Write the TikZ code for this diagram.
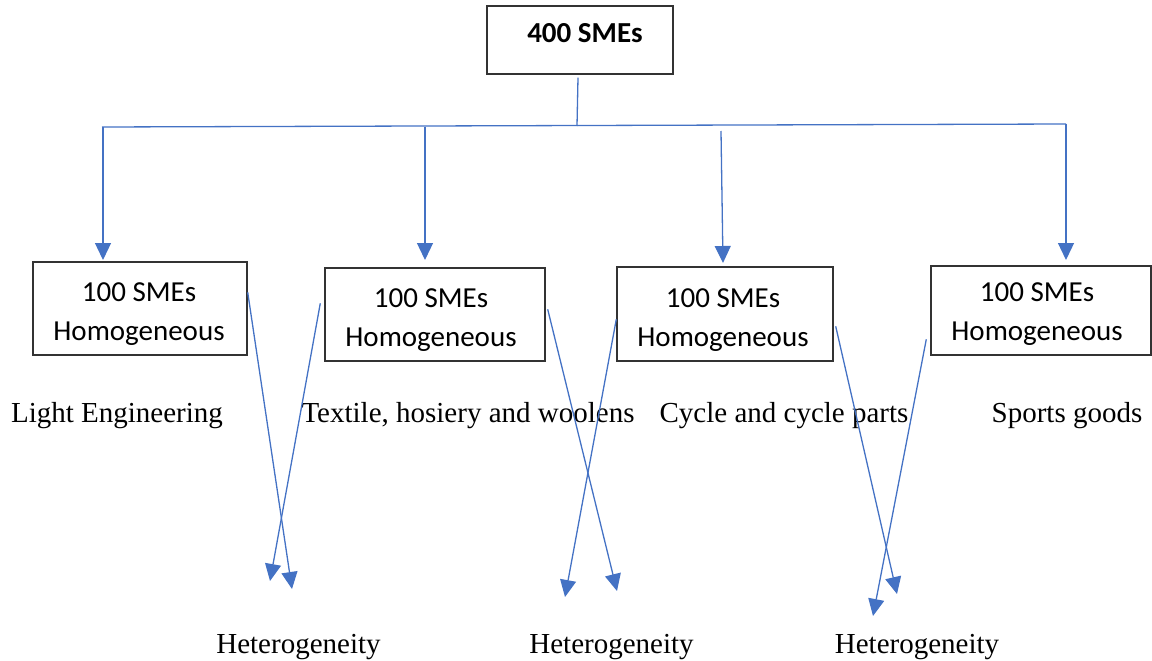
\documentclass[tikz,border=0pt]{standalone}
\usepackage{fontspec}
\setmainfont{Liberation Serif}
\newfontfamily\boxfont{Carlito}
\usetikzlibrary{arrows.meta,calc}
\definecolor{linkblue}{RGB}{68,114,196}
\begin{document}
\begin{tikzpicture}[x=1pt,y=-1pt,
  smebox/.style={draw=black!80,line width=1.4pt,fill=white,inner sep=0pt},
  boxtext/.style={font=\boxfont\fontsize{29}{39}\selectfont,align=center,inner sep=0pt},
  toptext/.style={font=\boxfont\bfseries\fontsize{29}{35}\selectfont,inner sep=0pt,anchor=base},
  cat/.style={font=\fontsize{29}{35}\selectfont,inner sep=0pt,anchor=base},
  link/.style={draw=linkblue,line width=1.3pt},
  arr/.style={link,-{Triangle[length=17pt,width=16pt]}}]
\useasboundingbox (0,0) rectangle (1152,661);

% top box
\node[smebox,minimum width=186pt,minimum height=68pt] (top) at (580,40) {};
\node[toptext] (toplbl) at (585,43) {400 SMEs};

% sector boxes
\node[smebox,minimum width=214pt,minimum height=93pt] (b1) at (140,308.5) {};
\node[smebox,minimum width=220pt,minimum height=93pt] (b2) at (435,314.5) {};
\node[smebox,minimum width=216pt,minimum height=94pt] (b3) at (725,314) {};
\node[smebox,minimum width=220pt,minimum height=89pt] (b4) at (1041,310.5) {};
\node[boxtext] (b1t) at ($(b1.center)+(-1,6)$) {100 SMEs\\Homogeneous};
\node[boxtext] (b2t) at ($(b2.center)+(-4,6)$) {100 SMEs\\Homogeneous};
\node[boxtext] (b3t) at ($(b3.center)+(-2,6)$) {100 SMEs\\Homogeneous};
\node[boxtext] (b4t) at ($(b4.center)+(-4,4)$) {100 SMEs\\Homogeneous};

% sector names
\node[cat] (c1) at (117,422) {Light Engineering};
\node[cat] (c2) at (468,422) {Textile, hosiery and woolens};
\node[cat] (c3) at (784,422) {Cycle and cycle parts};
\node[cat] (c4) at (1067,422) {Sports goods};

% outcome labels
\node[cat] (h1) at (298.5,653) {Heterogeneity};
\node[cat] (h2) at (611.5,653) {Heterogeneity};
\node[cat] (h3) at (917,653) {Heterogeneity};

% distribution bar
\coordinate (j) at (577,126);
\coordinate (barL) at (102,127);
\coordinate (barR) at (1066,124);
\coordinate (d1) at (103,127);
\coordinate (d2) at (425,126.5);
\coordinate (d3) at (721,131);
\coordinate (d4) at (1066,124);
\draw[link] ($(top.south)+(-2,3)$) -- (j);
\draw[link] (barL) -- (barR);
\draw[arr] (d1) -- (103,260);
\draw[arr] (d2) -- (425,260);
\draw[arr] (d3) -- (723,263);
\draw[arr] (d4) -- (1066,260);

% crossing arrows towards heterogeneity
\coordinate (t1a) at (292,589);
\coordinate (t1b) at (270,581);
\coordinate (t2a) at (617,591);
\coordinate (t2b) at (565,597);
\coordinate (t3a) at (897,594);
\coordinate (t3b) at (873,616);
\draw[arr] ($(b1.north east)+(0,31)$) -- (t1a);
\draw[arr] ($(b2.north west)+(-4,36)$) -- (t1b);
\draw[arr] ($(b2.north east)+(2,42)$) -- (t2a);
\draw[arr] ($(b3.north west)+(0,53)$) -- (t2b);
\draw[arr] ($(b3.north east)+(2,60)$) -- (t3a);
\draw[arr] ($(b4.north west)+(-4,74)$) -- (t3b);
\end{tikzpicture}
\end{document}
